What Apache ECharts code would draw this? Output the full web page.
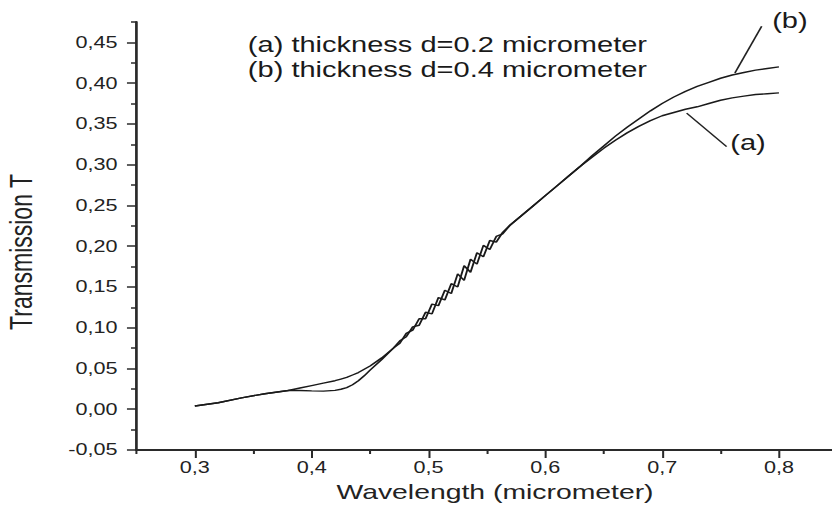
<!DOCTYPE html>
<html>
<head>
<meta charset="utf-8">
<script src="https://cdn.jsdelivr.net/npm/echarts@6/dist/echarts.min.js"></script>
<style>
  html, body { margin: 0; padding: 0; background: #fff; }
  #wrap { width: 832px; height: 518px; overflow: hidden; position: relative; background: #fff; }
  #chart { width: 616px; height: 518px; transform: scaleX(1.3506); transform-origin: 0 0; }
</style>
</head>
<body>
<div id="wrap"><div id="chart"></div></div>
<script>
// ---- data ----
const wavelength = [0.30,0.32,0.34,0.36,0.38,0.39,0.40,0.41,0.42,0.425,0.43,0.435,0.44,0.445,0.45,0.46,0.47,
  0.4755,0.481,0.4865,0.492,0.4975,0.503,0.5085,0.514,0.5195,0.525,0.5305,0.536,0.5415,0.547,0.5525,0.558,0.5635,
  0.57,0.58,0.59,0.60,0.61,0.62,0.63,0.64,
  0.65,0.66,0.67,0.68,0.69,0.70,0.71,0.72,0.73,0.74,0.75,0.76,0.77,0.78,0.79,0.80];
const transA = [0.004,0.008,0.014,0.019,0.023,0.026,0.029,0.032,0.035,0.037,0.039,0.042,0.045,0.049,0.053,0.063,0.075,
  0.084,0.089,0.101,0.103,0.119,0.117,0.137,0.134,0.154,0.150,0.176,0.168,0.192,0.187,0.207,0.205,0.217,
  0.226,0.238,0.250,0.262,0.274,0.286,0.298,0.309,
  0.320,0.330,0.339,0.347,0.354,0.360,0.364,0.368,0.371,0.375,0.379,0.382,0.384,0.386,0.387,0.388];
const transB = [0.004,0.008,0.014,0.019,0.023,0.023,0.0225,0.0222,0.0232,0.0245,0.0265,0.030,0.035,0.041,0.048,0.061,0.075,
  0.081,0.093,0.097,0.111,0.111,0.129,0.127,0.146,0.142,0.166,0.158,0.184,0.178,0.201,0.196,0.212,0.215,
  0.226,0.238,0.250,0.262,0.274,0.286,0.298,0.311,
  0.323,0.335,0.346,0.356,0.366,0.375,0.383,0.390,0.396,0.401,0.406,0.410,0.413,0.416,0.418,0.420];

const xMajorTicks = [0.3,0.4,0.5,0.6,0.7,0.8];
const xMinorTicks = [0.25,0.35,0.45,0.55,0.65,0.75,0.85];
const yMajorTicks = [-0.05,0,0.05,0.10,0.15,0.20,0.25,0.30,0.35,0.40,0.45];
const yMinorTicks = [-0.025,0.025,0.075,0.125,0.175,0.225,0.275,0.325,0.375,0.425,0.475];

const legendLines = ['(a) thickness d=0.2 micrometer', '(b) thickness d=0.4 micrometer'];
const legendAnchors = [[0.3454, 0.4472], [0.3454, 0.4165]];
const arrowA = [[0.7552, 0.3222], [0.721, 0.3633]];
const arrowB = [[0.7852, 0.4697], [0.7623, 0.4124]];
const labelA = { text: '(a)', at: [0.7735, 0.3268] };
const labelB = { text: '(b)', at: [0.8094, 0.4775] };

// ---- chart ----
const FONT = "'Liberation Sans', Arial, sans-serif";
const AX = '#2a2a2a';
const chart = echarts.init(document.getElementById('chart'), null, { renderer: 'svg' });

function fmtComma(d) { return v => v.toFixed(d).replace('.', ','); }
function mkArrow(seg) {
  return {
    silent: true, animation: false,
    symbol: ['none', 'arrow'], symbolSize: [0, 8],
    lineStyle: { color: '#222', width: 1.3, type: 'solid' },
    label: { show: false },
    emphasis: { disabled: true },
    data: [[{ coord: seg[0] }, { coord: seg[1] }]]
  };
}

const option = {
  animation: false,
  backgroundColor: '#fff',
  grid: { left: 101, right: -4, top: 22, bottom: 68, outerBoundsMode: 'none', containLabel: false },
  xAxis: [{
    type: 'value', min: 0.25, max: 0.85, interval: 0.05,
    position: 'bottom',
    axisLine: { show: true, onZero: false, lineStyle: { color: AX, width: 2 } },
    axisTick: { show: true, customValues: xMajorTicks, length: 8, lineStyle: { color: AX, width: 1.5 } },
    axisLabel: { customValues: xMajorTicks, formatter: fmtComma(1), margin: 10,
      color: '#222', fontSize: 16, fontFamily: FONT },
    splitLine: { show: false },
    name: 'Wavelength (micrometer)', nameLocation: 'middle', nameGap: 30,
    nameTextStyle: { color: '#222', fontSize: 21, fontFamily: FONT, padding: [0, 0, 0, 12] }
  }, {
    type: 'value', min: 0.25, max: 0.85, interval: 0.05, position: 'bottom',
    axisLine: { show: false, onZero: false },
    axisTick: { show: true, customValues: xMinorTicks, length: 4, lineStyle: { color: AX, width: 1.5 } },
    axisLabel: { show: false }, splitLine: { show: false }
  }],
  yAxis: [{
    type: 'value', min: -0.05, max: 0.475, interval: 0.05,
    position: 'left',
    axisLine: { show: true, onZero: false, lineStyle: { color: AX, width: 2 } },
    axisTick: { show: true, customValues: yMajorTicks, length: 7, lineStyle: { color: AX, width: 1.5 } },
    axisLabel: { customValues: yMajorTicks, formatter: fmtComma(2), margin: 14,
      color: '#222', fontSize: 16, fontFamily: FONT },
    splitLine: { show: false },
    name: 'Transmission T', nameLocation: 'middle', nameGap: 74,
    nameTextStyle: { color: '#222', fontSize: 23, fontFamily: FONT, padding: [0, 32, 0, 0] }
  }, {
    type: 'value', min: -0.05, max: 0.475, interval: 0.05, position: 'left',
    axisLine: { show: false, onZero: false },
    axisTick: { show: true, customValues: yMinorTicks, length: 4, lineStyle: { color: AX, width: 1.5 } },
    axisLabel: { show: false }, splitLine: { show: false }
  }],
  series: [{
    name: '(a)', type: 'line', xAxisIndex: 0, yAxisIndex: 0,
    showSymbol: false, smooth: false, clip: false,
    lineStyle: { color: '#1a1a1a', width: 1.4 },
    data: wavelength.map((w, i) => [w, transA[i]]),
    markLine: mkArrow(arrowA)
  }, {
    name: '(b)', type: 'line', xAxisIndex: 0, yAxisIndex: 0,
    showSymbol: false, smooth: false, clip: false,
    lineStyle: { color: '#1a1a1a', width: 1.4 },
    data: wavelength.map((w, i) => [w, transB[i]]),
    markLine: mkArrow(arrowB)
  }]
};
chart.setOption(option);

// text annotations placed through the chart's own scales
const px = p => chart.convertToPixel({ gridIndex: 0 }, p);
const textStyle = { fill: '#1a1a1a', fontSize: 21.5, fontFamily: FONT };
const graphics = legendLines.map((t, i) => {
  const p = px(legendAnchors[i]);
  return { type: 'text', x: p[0], y: p[1], silent: true,
    style: Object.assign({ text: t, align: 'left', verticalAlign: 'middle' }, textStyle) };
});
[labelA, labelB].forEach(l => {
  const p = px(l.at);
  graphics.push({ type: 'text', x: p[0], y: p[1], silent: true,
    style: Object.assign({ text: l.text, align: 'center', verticalAlign: 'middle' }, textStyle) });
});
chart.setOption({ graphic: graphics });
</script>
</body>
</html>
